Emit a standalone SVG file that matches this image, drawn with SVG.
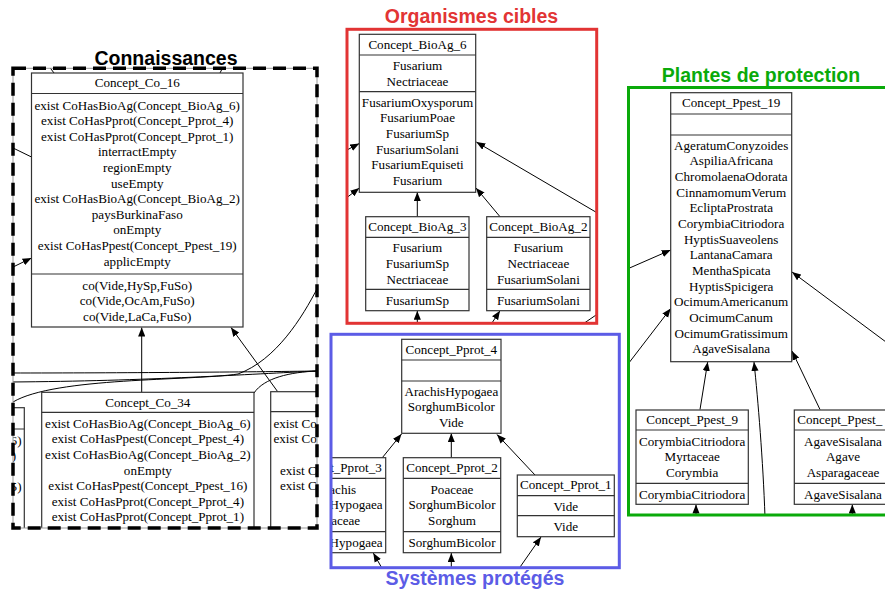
<svg xmlns="http://www.w3.org/2000/svg" width="885" height="593" viewBox="0 0 885 593">
<defs>
<style>
.n rect{fill:#fff;stroke:#333;stroke-width:1.2}
.n line{stroke:#333;stroke-width:1.2}
.n text{font-family:"Liberation Serif","Times New Roman",serif;font-size:13.1px;text-anchor:middle;fill:#000}
.n text.e{text-anchor:end}
.n text.s{text-anchor:start}
.c path,.c line{fill:none;stroke:#000;stroke-width:1}
.a{marker-end:url(#ah)}
.t{font-family:"Liberation Sans",Arial,Helvetica,sans-serif;font-weight:bold;font-size:19.5px;text-anchor:middle}
</style>
<marker id="ah" viewBox="0 0 10 8" refX="10" refY="4" markerWidth="9" markerHeight="7.5" markerUnits="userSpaceOnUse" orient="auto"><path d="M0,0 L10,4 L0,8 z" fill="#000"/></marker>
<clipPath id="cK"><rect x="13" y="68" width="304" height="460"/></clipPath>
<clipPath id="cO"><rect x="347" y="29" width="250" height="294.5"/></clipPath>
<clipPath id="cS"><rect x="331" y="334" width="288.5" height="233.5"/></clipPath>
<clipPath id="cP"><rect x="628.5" y="87.5" width="300" height="427.5"/></clipPath>
</defs>
<rect width="885" height="593" fill="#fff"/>

<!-- connectors -->
<g id="connectors" class="c">
 <g clip-path="url(#cK)">
  <line class="a" x1="141.7" y1="392.3" x2="141.7" y2="327.5"/>
  <line class="a" x1="277.7" y1="391.7" x2="231" y2="327.5"/>
  <path d="M318,287 C302,318 276,360 238,374 C190,381 55,377 13,402"/>
  <path d="M318,371 C250,372 120,373 10,373"/>
  <path d="M318,371 C250,374 150,381 10,382"/>
  <path d="M318,371 C290,372 264,378 254,393"/>
  <line x1="10" y1="146.5" x2="31.5" y2="157"/>
  <line class="a" x1="10" y1="268.5" x2="31.5" y2="258"/>
  <line x1="48" y1="65" x2="54" y2="73"/>
  <line x1="224" y1="65" x2="220" y2="73"/>
 </g>
 <g clip-path="url(#cO)">
  <line class="a" x1="417.3" y1="216.7" x2="417.3" y2="192.3"/>
  <line class="a" x1="500" y1="216.7" x2="476" y2="188"/>
  <line class="a" x1="600" y1="214.5" x2="476.3" y2="142"/>
  <line class="a" x1="345" y1="151" x2="359.3" y2="143.5"/>
  <line class="a" x1="345" y1="199" x2="359.3" y2="188"/>
  <line class="a" x1="417.3" y1="326" x2="417.3" y2="310.7"/>
  <line class="a" x1="490" y1="326" x2="500" y2="310.7"/>
  <line x1="580" y1="326" x2="599" y2="313"/>
 </g>
 <g clip-path="url(#cS)">
  <line class="a" x1="382.3" y1="457.7" x2="401.5" y2="434"/>
  <line class="a" x1="451.3" y1="457.7" x2="451.3" y2="433.3"/>
  <line class="a" x1="535" y1="475" x2="497" y2="434.5"/>
  <line class="a" x1="383" y1="570" x2="373.3" y2="553"/>
  <line class="a" x1="451.3" y1="570" x2="451.3" y2="553"/>
  <line class="a" x1="518" y1="570" x2="541" y2="537"/>
 </g>
 <g clip-path="url(#cP)">
  <line class="a" x1="700" y1="409.5" x2="707.7" y2="362"/>
  <path class="a" d="M765,517 C763,460 758,400 754,362"/>
  <line class="a" x1="820" y1="409.5" x2="792" y2="351"/>
  <line class="a" x1="696" y1="517" x2="696" y2="504.5"/>
  <line class="a" x1="852.3" y1="517" x2="852.3" y2="504.5"/>
  <line class="a" x1="625" y1="270" x2="670.7" y2="250"/>
  <line class="a" x1="625" y1="368" x2="670.7" y2="308.5"/>
  <line class="a" x1="890" y1="345" x2="792" y2="272"/>
 </g>
</g>

<!-- Connaissances nodes -->
<g id="Concept_Co_16" class="n" clip-path="url(#cK)">
 <rect x="31.5" y="73" width="211.5" height="254"/>
 <line x1="31.5" y1="93.5" x2="243" y2="93.5"/>
 <line x1="31.5" y1="274" x2="243" y2="274"/>
 <text x="137.25" y="87.3">Concept_Co_16</text>
 <text x="137.25" y="109.5">exist CoHasBioAg(Concept_BioAg_6)</text>
 <text x="137.25" y="125.1">exist CoHasPprot(Concept_Pprot_4)</text>
 <text x="137.25" y="140.7">exist CoHasPprot(Concept_Pprot_1)</text>
 <text x="137.25" y="156.3">interractEmpty</text>
 <text x="137.25" y="171.9">regionEmpty</text>
 <text x="137.25" y="187.5">useEmpty</text>
 <text x="137.25" y="203.1">exist CoHasBioAg(Concept_BioAg_2)</text>
 <text x="137.25" y="218.7">paysBurkinaFaso</text>
 <text x="137.25" y="234.3">onEmpty</text>
 <text x="137.25" y="249.9">exist CoHasPpest(Concept_Ppest_19)</text>
 <text x="137.25" y="265.5">applicEmpty</text>
 <text x="137.25" y="289.5">co(Vide,HySp,FuSo)</text>
 <text x="137.25" y="305.1">co(Vide,OcAm,FuSo)</text>
 <text x="137.25" y="320.7">co(Vide,LaCa,FuSo)</text>
</g>
<g id="Concept_Co_34" class="n" clip-path="url(#cK)">
 <rect x="41.7" y="392.3" width="212.3" height="150"/>
 <line x1="41.7" y1="412.3" x2="254" y2="412.3"/>
 <text x="147.85" y="406.6">Concept_Co_34</text>
 <text x="147.85" y="427.8">exist CoHasBioAg(Concept_BioAg_6)</text>
 <text x="147.85" y="443.4">exist CoHasPpest(Concept_Ppest_4)</text>
 <text x="147.85" y="459">exist CoHasBioAg(Concept_BioAg_2)</text>
 <text x="147.85" y="474.6">onEmpty</text>
 <text x="147.85" y="490.2">exist CoHasPpest(Concept_Ppest_16)</text>
 <text x="147.85" y="505.8">exist CoHasPprot(Concept_Pprot_4)</text>
 <text x="147.85" y="521.4">exist CoHasPprot(Concept_Pprot_1)</text>
</g>
<g id="Concept_Co_left" class="n" clip-path="url(#cK)">
 <rect x="-80" y="407.7" width="104.3" height="140"/>
 <line x1="-80" y1="429" x2="24.3" y2="429"/>
 <text class="e" x="21.5" y="444.5">6)</text>
 <text class="e" x="16" y="460">)</text>
 <text class="e" x="21.5" y="491">5)</text>
</g>
<g id="Concept_Co_right" class="n" clip-path="url(#cK)">
 <rect x="270.7" y="391.7" width="120" height="150"/>
 <line x1="270.7" y1="411.7" x2="390.7" y2="411.7"/>
 <text class="s" x="273.5" y="427.8">exist Co</text>
 <text class="s" x="273.5" y="443.4">exist Co</text>
 <text class="s" x="280" y="474.6">exist C</text>
 <text class="s" x="280" y="490.2">exist C</text>
</g>
<g id="cluster_Connaissances">
 <rect x="13" y="68.3" width="304" height="459.7" fill="none" stroke="#999" stroke-width="1"/>
 <rect x="13" y="68.3" width="304" height="459.7" fill="none" stroke="#000" stroke-width="3.5" stroke-dasharray="13 7"/>
 <text class="t" x="166" y="65">Connaissances</text>
</g>

<!-- Organismes cibles -->
<g id="Concept_BioAg_6" class="n">
 <rect x="359.3" y="34.3" width="116.4" height="158"/>
 <line x1="359.3" y1="55" x2="475.7" y2="55"/>
 <line x1="359.3" y1="91.7" x2="475.7" y2="91.7"/>
 <text x="417.5" y="48.5">Concept_BioAg_6</text>
 <text x="417.5" y="70.3">Fusarium</text>
 <text x="417.5" y="85.9">Nectriaceae</text>
 <text x="417.5" y="106.8">FusariumOxysporum</text>
 <text x="417.5" y="122.4">FusariumPoae</text>
 <text x="417.5" y="138">FusariumSp</text>
 <text x="417.5" y="153.6">FusariumSolani</text>
 <text x="417.5" y="169.2">FusariumEquiseti</text>
 <text x="417.5" y="184.8">Fusarium</text>
</g>
<g id="Concept_BioAg_3" class="n">
 <rect x="365.7" y="216.7" width="103.3" height="94"/>
 <line x1="365.7" y1="237.3" x2="469" y2="237.3"/>
 <line x1="365.7" y1="289.3" x2="469" y2="289.3"/>
 <text x="417.35" y="231">Concept_BioAg_3</text>
 <text x="417.35" y="252.3">Fusarium</text>
 <text x="417.35" y="267.9">FusariumSp</text>
 <text x="417.35" y="283.5">Nectriaceae</text>
 <text x="417.35" y="304.6">FusariumSp</text>
</g>
<g id="Concept_BioAg_2" class="n">
 <rect x="486.7" y="216.7" width="103.3" height="94"/>
 <line x1="486.7" y1="237.3" x2="590" y2="237.3"/>
 <line x1="486.7" y1="289.3" x2="590" y2="289.3"/>
 <text x="538.35" y="231">Concept_BioAg_2</text>
 <text x="538.35" y="252.3">Fusarium</text>
 <text x="538.35" y="267.9">Nectriaceae</text>
 <text x="538.35" y="283.5">FusariumSolani</text>
 <text x="538.35" y="304.6">FusariumSolani</text>
</g>
<g id="cluster_Organismes">
 <rect x="347" y="29.3" width="249.7" height="294" fill="none" stroke="#e23434" stroke-width="3"/>
 <text class="t" x="471.5" y="23.3" fill="#e23434">Organismes cibles</text>
</g>

<!-- Systemes proteges -->
<g id="Concept_Pprot_4" class="n">
 <rect x="401.7" y="339.3" width="99.3" height="94"/>
 <line x1="401.7" y1="360" x2="501" y2="360"/>
 <line x1="401.7" y1="381" x2="501" y2="381"/>
 <text x="451.35" y="354">Concept_Pprot_4</text>
 <text x="451.35" y="395.8">ArachisHypogaea</text>
 <text x="451.35" y="411.3">SorghumBicolor</text>
 <text x="451.35" y="426.8">Vide</text>
</g>
<g id="Concept_Pprot_3" class="n" clip-path="url(#cS)">
 <rect x="286" y="457.7" width="99.7" height="95"/>
 <line x1="286" y1="478.3" x2="385.7" y2="478.3"/>
 <line x1="286" y1="531.7" x2="385.7" y2="531.7"/>
 <text class="e" x="381.8" y="472">t_Pprot_3</text>
 <text class="e" x="356.2" y="493.8">achis</text>
 <text class="e" x="382.7" y="509.4">Hypogaea</text>
 <text class="e" x="360.2" y="525">aceae</text>
 <text class="e" x="382.7" y="547.2">Hypogaea</text>
</g>
<g id="Concept_Pprot_2" class="n">
 <rect x="403.3" y="457.7" width="97.4" height="95"/>
 <line x1="403.3" y1="478.3" x2="500.7" y2="478.3"/>
 <line x1="403.3" y1="531.7" x2="500.7" y2="531.7"/>
 <text x="452" y="472">Concept_Pprot_2</text>
 <text x="452" y="493.8">Poaceae</text>
 <text x="452" y="509.4">SorghumBicolor</text>
 <text x="452" y="525">Sorghum</text>
 <text x="452" y="547.2">SorghumBicolor</text>
</g>
<g id="Concept_Pprot_1" class="n">
 <rect x="517.3" y="475" width="97" height="61.7"/>
 <line x1="517.3" y1="495.7" x2="614.3" y2="495.7"/>
 <line x1="517.3" y1="515.7" x2="614.3" y2="515.7"/>
 <text x="565.8" y="489.3">Concept_Pprot_1</text>
 <text x="565.8" y="511">Vide</text>
 <text x="565.8" y="531">Vide</text>
</g>
<g id="cluster_Systemes">
 <rect x="331" y="334.3" width="288.3" height="233.4" fill="none" stroke="#5c5ce6" stroke-width="3"/>
 <text class="t" x="475" y="585" fill="#5c5ce6">Systèmes protégés</text>
</g>

<!-- Plantes de protection -->
<g id="Concept_Ppest_19" class="n">
 <rect x="670.7" y="92.7" width="121" height="269"/>
 <line x1="670.7" y1="114" x2="791.7" y2="114"/>
 <line x1="670.7" y1="135" x2="791.7" y2="135"/>
 <text x="731.2" y="107.3">Concept_Ppest_19</text>
 <text x="731.2" y="149.8">AgeratumConyzoides</text>
 <text x="731.2" y="165.45">AspiliaAfricana</text>
 <text x="731.2" y="181.1">ChromolaenaOdorata</text>
 <text x="731.2" y="196.75">CinnamomumVerum</text>
 <text x="731.2" y="212.4">EcliptaProstrata</text>
 <text x="731.2" y="228.05">CorymbiaCitriodora</text>
 <text x="731.2" y="243.7">HyptisSuaveolens</text>
 <text x="731.2" y="259.35">LantanaCamara</text>
 <text x="731.2" y="275">MenthaSpicata</text>
 <text x="731.2" y="290.65">HyptisSpicigera</text>
 <text x="731.2" y="306.3">OcimumAmericanum</text>
 <text x="731.2" y="321.95">OcimumCanum</text>
 <text x="731.2" y="337.6">OcimumGratissimum</text>
 <text x="731.2" y="353.25">AgaveSisalana</text>
</g>
<g id="Concept_Ppest_9" class="n">
 <rect x="636" y="410" width="112.3" height="94.3"/>
 <line x1="636" y1="430" x2="748.3" y2="430"/>
 <line x1="636" y1="483.3" x2="748.3" y2="483.3"/>
 <text x="692.15" y="424.3">Concept_Ppest_9</text>
 <text x="692.15" y="445.5">CorymbiaCitriodora</text>
 <text x="692.15" y="461.1">Myrtaceae</text>
 <text x="692.15" y="476.7">Corymbia</text>
 <text x="692.15" y="498.8">CorymbiaCitriodora</text>
</g>
<g id="Concept_Ppest_right" class="n">
 <rect x="794.3" y="410" width="110" height="94.3"/>
 <line x1="794.3" y1="430" x2="904.3" y2="430"/>
 <line x1="794.3" y1="483.3" x2="904.3" y2="483.3"/>
 <text class="s" x="797.2" y="424.3">Concept_Ppest_</text>
 <text x="843" y="445.5">AgaveSisalana</text>
 <text x="843" y="461.1">Agave</text>
 <text x="843" y="476.7">Asparagaceae</text>
 <text x="843" y="498.8">AgaveSisalana</text>
</g>
<g id="cluster_Plantes">
 <rect x="628.5" y="87.5" width="300" height="427.5" fill="none" stroke="#0aaa0a" stroke-width="3"/>
 <text class="t" x="761" y="82" fill="#0aaa0a">Plantes de protection</text>
</g>
</svg>
